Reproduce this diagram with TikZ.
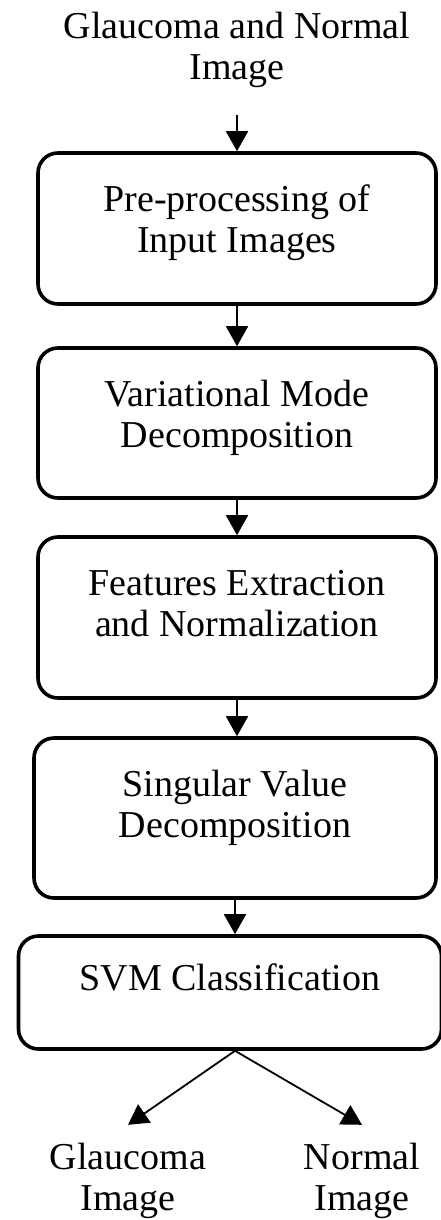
\documentclass[tikz,border=0pt]{standalone}
\usepackage{fontspec}
\setmainfont{Liberation Serif}
\usepackage{tikz}
\usetikzlibrary{arrows.meta,positioning}

\begin{document}
\begin{tikzpicture}[
    x=0.5pt,y=-0.5pt,
    font=\fontsize{19}{20.5}\selectfont,
    etapa/.style={draw,line width=1.8pt,rounded corners=10pt,
      minimum width=199pt,inner sep=0pt,align=center,
    text height=49.5pt,text depth=#1},
    seta/.style={-{Triangle[length=10pt,width=11pt]},line width=0.9pt},
    rotulo/.style={align=center,inner xsep=0pt,inner ysep=#1}
    ]
    \useasboundingbox (0,0) rectangle (440,1220);

    % etapas
    \node[etapa=26pt] (pre) at (237,228.5) {Pre-processing of\\Input Images};
    \node[etapa=25.5pt, below=20.2pt of pre]  (vmd)  {Variational Mode\\Decomposition};
    \node[etapa=31pt,   below=17.7pt of vmd]  (feat) {Features Extraction\\and Normalization};
    \node[etapa=30.5pt, below=18.2pt of feat, xshift=-1pt,
    minimum width=201pt] (svd) {Singular Value\\Decomposition};
    \node[etapa=29.5pt, text height=27pt, below=17.2pt of svd, xshift=-2.5pt,
    minimum width=211.5pt] (svm) {SVM Classification};

    % entrada
    \node[rotulo=13.5pt, above=18.1pt of pre] (entrada) {Glaucoma and Normal\\Image};

    \draw[seta] (entrada) -- (pre);
    \draw[seta] (pre) -- (vmd);
    \draw[seta] (vmd) -- (feat);
    \draw[seta] (feat.south) -- (feat.south |- svd.north);
    \draw[seta] (svd.south) -- (svd.south |- svm.north);

    % saidas
    \coordinate (divisao) at (svm.south -| svd.south);
    \node[rotulo=9pt, below=37pt of divisao, xshift=-53.5pt] (glauc)  {Glaucoma\\Image};
    \node[rotulo=9pt, below=37pt of divisao, xshift=63.5pt]  (normal) {Normal\\Image};

    \draw[seta] (divisao) -- (glauc.north);
    \draw[seta] (divisao) -- (normal.north);
  \end{tikzpicture}
\end{document}
